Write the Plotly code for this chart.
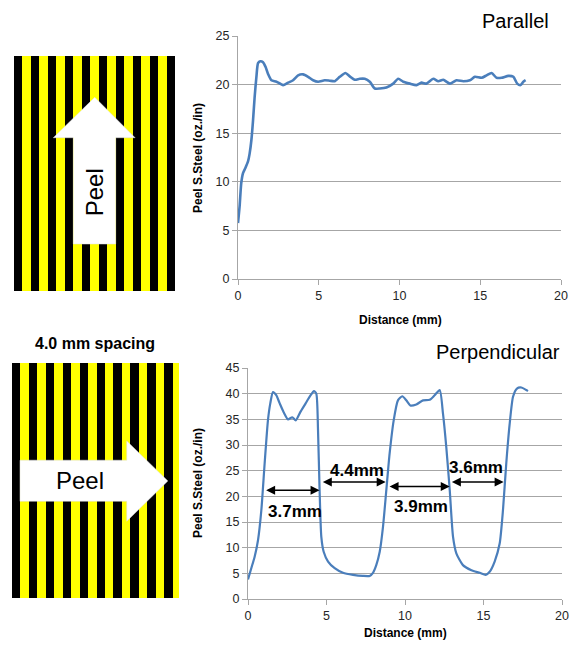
import plotly.graph_objects as go

# ---------------- data ----------------
par_x = [0, 0.1, 0.2, 0.31, 0.45, 0.62, 0.72, 0.83, 0.93, 1.03, 1.14, 1.24, 1.38, 1.55, 1.71, 1.86,
         2.07, 2.38, 2.79, 3.1, 3.41, 3.72, 4.03, 4.34, 4.65, 4.96, 5.37, 5.68, 5.99, 6.3, 6.65,
         6.92, 7.23, 7.54, 7.85, 8.16, 8.47, 8.78, 9.19, 9.61, 9.92, 10.23, 10.64, 11.05, 11.36,
         11.67, 12.09, 12.4, 12.71, 13.12, 13.53, 13.95, 14.36, 14.67, 15.08, 15.39, 15.7, 16.01,
         16.32, 16.74, 17.05, 17.29, 17.5, 17.67, 17.81]
par_y = [5.75, 7.5, 9.85, 10.9, 11.4, 12.1, 12.9, 14.3, 16.3, 18.7, 20.8, 22.2, 22.4, 22.3, 21.8, 21.1,
         20.45, 20.3, 19.95, 20.2, 20.45, 20.95, 21.05, 20.8, 20.45, 20.3, 20.45, 20.4, 20.35, 20.8, 21.2,
         20.85, 20.5, 20.6, 20.6, 20.3, 19.6, 19.6, 19.7, 20.1, 20.6, 20.3, 20.1, 19.95, 20.2,
         20.1, 20.6, 20.35, 20.5, 20.1, 20.45, 20.35, 20.45, 20.8, 20.7, 20.95, 21.2, 20.7,
         20.7, 20.9, 20.8, 20.1, 19.95, 20.3, 20.45]

perp_x = [0, 0.21, 0.42, 0.64, 0.85, 1.06, 1.27, 1.42, 1.59, 1.8, 2.02, 2.27, 2.55, 2.82, 3.04, 3.33,
          3.67, 3.97, 4.2, 4.35, 4.46, 4.56, 4.67, 4.82, 5.1, 5.52, 6.05, 6.69, 7.32, 7.75, 7.96,
          8.17, 8.39, 8.6, 8.81, 9.02, 9.28, 9.55, 9.83, 10.08, 10.34, 10.72, 11.15, 11.57, 11.89,
          12.21, 12.42, 12.63, 12.85, 13.06, 13.27, 13.69, 14.23, 14.76, 15.14, 15.39, 15.71,
          16.03, 16.24, 16.45, 16.67, 16.88, 17.13, 17.41, 17.73, 17.83]
perp_y = [3.8, 6.0, 8.2, 11.5, 17.3, 26.4, 34.8, 38.1, 40.3, 39.7, 38.1, 36.4, 35.0, 35.4, 34.8, 36.4,
          38.1, 39.6, 40.5, 40.0, 32.9, 21.2, 12.1, 9.2, 7.3, 6.0, 5.1, 4.7, 4.5, 4.5, 5.1,
          6.6, 9.2, 14.1, 21.2, 28.3, 34.8, 38.7, 39.5, 38.7, 37.7, 37.9, 38.7, 38.8, 39.7,
          40.7, 36.1, 29.6, 21.2, 12.1, 8.9, 6.6, 5.6, 5.1, 4.7, 5.3, 7.3,
          10.8, 17.3, 26.4, 34.2, 39.4, 41.0, 41.2, 40.7, 40.5]

gap_labels = ["3.7mm", "4.4mm", "3.9mm", "3.6mm"]
gap_start = [1.06, 4.67, 8.92, 12.89]
gap_end = [4.56, 8.77, 12.85, 16.28]
gap_y = [21.2, 22.8, 21.9, 22.8]
label_x = [2.97, 6.96, 11.04, 14.54]
label_y = [17.0, 25.1, 18.0, 25.7]

# stripe illustrations (stripe index units)
top_stripes = list(range(19))
bot_stripes = list(range(20))
stripe_colors = ["#000000", "#ffff00"]
# arrow outlines in stripe units
up_arrow_x = [7.0, 7.0, 4.64, 9.53, 14.29, 12.0, 12.0, 7.0]
up_arrow_y = [5.55, 18.1, 18.1, 22.87, 18.1, 18.1, 5.55, 5.55]
right_arrow_x = [0.95, 13.57, 13.57, 18.43, 13.57, 13.57, 0.95, 0.95]
right_arrow_y = [16.3, 16.3, 18.58, 13.85, 9.08, 11.44, 11.44, 16.3]

W, H = 571, 646
def px(x):
    return x / W
def py(y):
    return 1 - y / H

LINE = "#4a7ebb"
GRID = "#a6a6a6"
FONT = "Liberation Sans, Arial, sans-serif"

fig = go.Figure()

# stripes
fig.add_trace(go.Bar(x=[i + 0.5 for i in top_stripes], y=[28] * len(top_stripes), width=1,
                     marker=dict(color=[stripe_colors[i % 2] for i in top_stripes], line=dict(width=0)),
                     xaxis="x3", yaxis="y3", hoverinfo="skip", showlegend=False))
fig.add_trace(go.Bar(x=[i + 0.5 for i in bot_stripes], y=[28] * len(bot_stripes), width=1,
                     marker=dict(color=[stripe_colors[i % 2] for i in bot_stripes], line=dict(width=0)),
                     xaxis="x4", yaxis="y4", hoverinfo="skip", showlegend=False))
fig.add_trace(go.Scatter(x=up_arrow_x, y=up_arrow_y, fill="toself", fillcolor="white", mode="lines",
                         line=dict(color="#e0e0e0", width=0.5), xaxis="x3", yaxis="y3",
                         hoverinfo="skip", showlegend=False))
fig.add_trace(go.Scatter(x=right_arrow_x, y=right_arrow_y, fill="toself", fillcolor="white", mode="lines",
                         line=dict(color="#e0e0e0", width=0.5), xaxis="x4", yaxis="y4",
                         hoverinfo="skip", showlegend=False))

# data curves
fig.add_trace(go.Scatter(x=par_x, y=par_y, mode="lines", line=dict(color=LINE, width=2.6, shape="spline", smoothing=0.6),
                         xaxis="x", yaxis="y", showlegend=False))
fig.add_trace(go.Scatter(x=perp_x, y=perp_y, mode="lines", line=dict(color=LINE, width=2.2, shape="spline", smoothing=0.6),
                         xaxis="x2", yaxis="y2", showlegend=False))

axis_common = dict(showline=True, linecolor=GRID, linewidth=1, ticks="outside", ticklen=5,
                   tickcolor=GRID, tickfont=dict(family=FONT, size=12.5, color="#262626"),
                   zeroline=False, fixedrange=True)

annotations = []
for lab_txt, xs, xe, yy, lx, ly in zip(gap_labels, gap_start, gap_end, gap_y, label_x, label_y):
    annotations.append(dict(x=xe, y=yy, ax=xs, ay=yy, xref="x2", yref="y2", axref="x2", ayref="y2",
                            text="", showarrow=True, arrowhead=2, arrowside="end+start",
                            arrowsize=1.2, arrowwidth=1.5, arrowcolor="black"))
    annotations.append(dict(x=lx, y=ly, xref="x2", yref="y2", text="<b>%s</b>" % lab_txt, showarrow=False,
                            xanchor="center", yanchor="middle",
                            font=dict(family="Liberation Sans Narrow, Arial Narrow, Liberation Sans, sans-serif",
                                      size=17, color="black")))

def lab(x, y, text, size, angle=0, xanchor="center", family=FONT):
    return dict(x=px(x), y=py(y), xref="paper", yref="paper", text=text, showarrow=False,
                textangle=angle, xanchor=xanchor, yanchor="middle",
                font=dict(family=family, size=size, color="black"))

annotations += [
    lab(551, 21, "Parallel", 20, xanchor="right"),
    lab(562, 352, "Perpendicular", 20, xanchor="right"),
    lab(95, 343, "<b>4.0 mm spacing</b>", 16),
    lab(198, 158, "<b>Peel S.Steel (oz./in)</b>", 12, angle=-90),
    lab(198, 483, "<b>Peel S.Steel (oz./in)</b>", 12, angle=-90),
    lab(400, 320, "<b>Distance (mm)</b>", 12),
    lab(405, 633, "<b>Distance (mm)</b>", 12),
    dict(x=9.5, y=11.6, xref="x3", yref="y3", text="Peel", showarrow=False, textangle=-90,
         xanchor="center", yanchor="middle", font=dict(family=FONT, size=24, color="black")),
    dict(x=8.05, y=13.9, xref="x4", yref="y4", text="Peel", showarrow=False,
         xanchor="center", yanchor="middle", font=dict(family=FONT, size=24, color="black")),
]

fig.update_layout(
    width=W, height=H, margin=dict(l=0, r=0, t=0, b=0, autoexpand=False),
    paper_bgcolor="white", plot_bgcolor="white", bargap=0, showlegend=False,
    xaxis=dict(domain=[px(238), px(561)], anchor="y", range=[0, 20], dtick=5, showgrid=False, **axis_common),
    yaxis=dict(domain=[py(279), py(36)], anchor="x", range=[0, 25], dtick=5, showgrid=True,
               gridcolor=GRID, gridwidth=1, **axis_common),
    xaxis2=dict(domain=[px(248), px(562)], anchor="y2", range=[0, 20], dtick=5, showgrid=False, **axis_common),
    yaxis2=dict(domain=[py(599), py(368)], anchor="x2", range=[0, 45], dtick=5, showgrid=True,
                gridcolor=GRID, gridwidth=1, **axis_common),
    xaxis3=dict(domain=[px(14), px(175)], anchor="y3", range=[0, 19], visible=False, fixedrange=True),
    yaxis3=dict(domain=[py(291), py(56)], anchor="x3", range=[0, 27.75], visible=False, fixedrange=True),
    xaxis4=dict(domain=[px(12), px(179)], anchor="y4", range=[0, 19.75], visible=False, fixedrange=True),
    yaxis4=dict(domain=[py(598), py(363)], anchor="x4", range=[0, 27.8], visible=False, fixedrange=True),
    annotations=annotations,
)

fig.write_html("out.html", config={"displayModeBar": False},
               post_script="document.body.style.margin='0';document.body.style.overflow='hidden';")
